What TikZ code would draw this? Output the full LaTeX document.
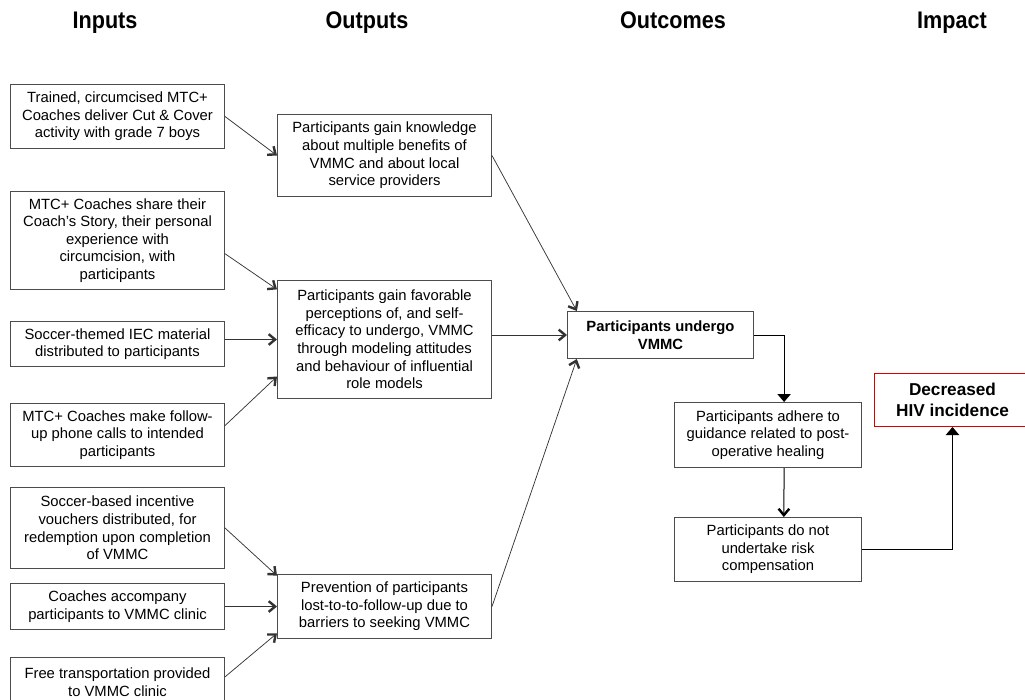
\documentclass[tikz,border=0pt]{standalone}
\usepackage{fontspec}
\setmainfont{Liberation Sans}
\newfontfamily\headfont[FakeStretch=0.9]{Liberation Sans}
\usepackage{tikz}
\usetikzlibrary{arrows.meta}
\newlength\px
\setlength\px{0.75pt}

\begin{document}
\begin{tikzpicture}[x=0.75pt, y=-0.75pt,
    font=\fontsize{11.1}{13.2}\selectfont,
    box/.style={draw=black!70, line width=0.75pt, inner sep=0pt, align=center,
      anchor=north west, minimum width=214\px},
    head/.style={anchor=base, font=\headfont\bfseries\fontsize{18}{18}\selectfont},
    arr/.style={draw=black!80, line width=0.55pt,
      -{Straight Barb[length=4.8pt, width=8pt, line width=1.8pt]}},
    tri/.style={draw=black, line width=0.75pt, -{Triangle[length=6pt, width=10pt]}}]
  \useasboundingbox (0,0) rectangle (1025,700);

  % column heads
  \node[head] (hIn)  at (105,28) {Inputs};
  \node[head] (hOut) at (367,28) {Outputs};
  \node[head] (hOc)  at (673,28) {Outcomes};
  \node[head] (hImp) at (952,28) {Impact};

  % inputs
  \node[box, minimum height=64\px] (in1) at (10,84)
    {Trained, circumcised MTC+\\Coaches deliver Cut \& Cover\\activity with grade 7 boys};
  \node[box, minimum height=98\px] (in2) at (10,191)
    {MTC+ Coaches share their\\Coach’s Story, their personal\\experience with\\circumcision, with\\participants};
  \node[box, minimum height=45\px] (in3) at (10,321)
    {Soccer-themed IEC material\\distributed to participants};
  \node[box, minimum height=63\px] (in4) at (10,403)
    {MTC+ Coaches make follow-\\up phone calls to intended\\participants};
  \node[box, minimum height=81\px] (in5) at (10,487)
    {Soccer-based incentive\\vouchers distributed, for\\redemption upon completion\\of VMMC};
  \node[box, minimum height=46\px] (in6) at (10,583)
    {Coaches accompany\\participants to VMMC clinic};
  \node[box, minimum height=50\px] (in7) at (10,657)
    {Free transportation provided\\to VMMC clinic};

  % outputs
  \node[box, minimum height=82\px] (op1) at (277,114)
    {Participants gain knowledge\\about multiple benefits of\\VMMC and about local\\service providers};
  \node[box, minimum height=118\px] (op2) at (277,280)
    {Participants gain favorable\\perceptions of, and self-\\efficacy to undergo, VMMC\\through modeling attitudes\\and behaviour of influential\\role models};
  \node[box, minimum height=64\px] (op3) at (277,574)
    {Prevention of participants\\lost-to-to-follow-up due to\\barriers to seeking VMMC};

  % outcomes and impact
  \node[box, font=\fontsize{11.1}{13.2}\selectfont\bfseries, minimum width=186\px,
        minimum height=47\px] (oc1) at (567,311) {Participants undergo\\VMMC};
  \node[box, minimum width=187\px, minimum height=65\px] (oc2) at (674,402)
    {Participants adhere to\\guidance related to post-\\operative healing};
  \node[box, minimum width=187\px, minimum height=64\px] (oc3) at (674,517)
    {Participants do not\\undertake risk\\compensation};
  \node[box, draw=red!85!black, font=\fontsize{12.9}{15.8}\selectfont\bfseries,
        minimum width=156\px, minimum height=53\px] (imp) at (874,373)
    {Decreased\\HIV incidence};

  % inputs to outputs
  \draw[arr] (in1.east) -- (op1.west);
  \draw[arr] (in2.-7) -- (op2.155);
  \draw[arr] (in3.east |- op2.west) -- (op2.west);
  \draw[arr] (in4.5) -- (op2.199);
  \draw[arr] (in5.east) -- (op3.164);
  \draw[arr] (in6.east) -- (op3.west);
  \draw[arr] (in7.3) -- (op3.194);

  % outputs to outcome
  \draw[arr] (op1.east) -- (oc1.164);
  \draw[arr] (op2.east |- oc1.west) -- (oc1.west);
  \draw[arr] (op3.east) -- (oc1.196);

  \draw[tri] (oc1.east) -| (oc2.64);
  \draw[arr, draw=black, line width=0.75pt] (oc2.-64) -- (oc3.64);
  \draw[tri] (oc3.east) -| (imp.south);
\end{tikzpicture}
\end{document}
